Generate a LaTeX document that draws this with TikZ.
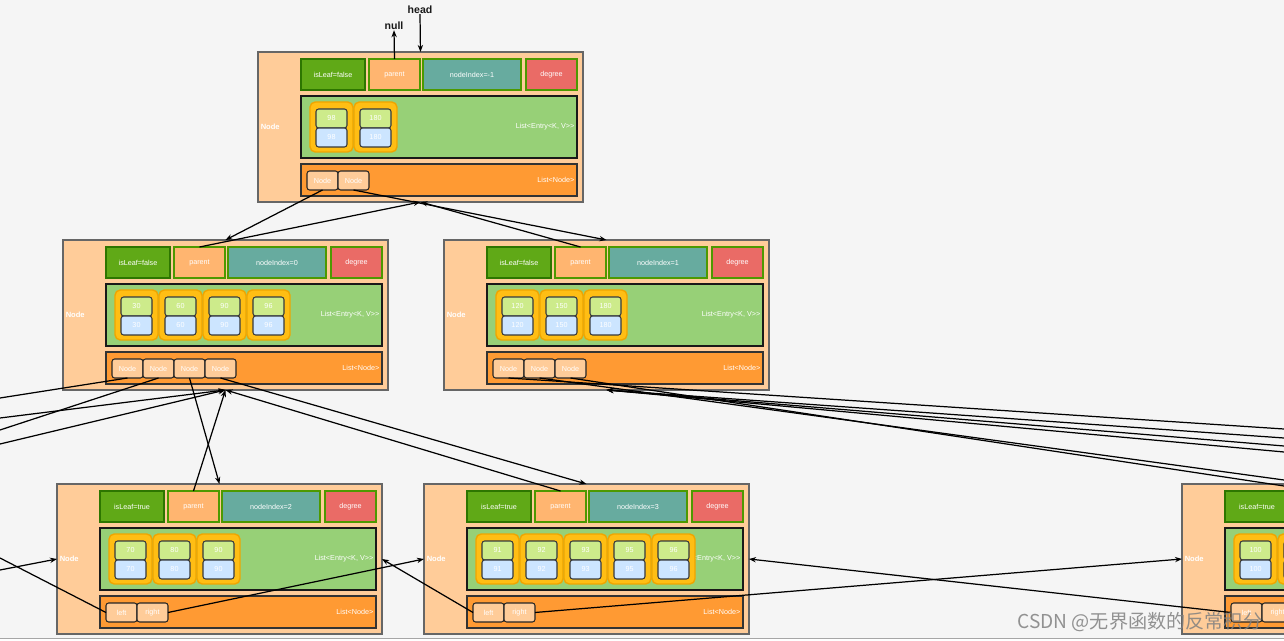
\documentclass[tikz,border=0pt]{standalone}
\usepackage{fontspec}
\setmainfont{Liberation Sans}
\newfontfamily\cjkfont{Noto Sans CJK SC}
\usetikzlibrary{arrows.meta,positioning}

\definecolor{bgcol}{HTML}{F5F5F5}
\definecolor{outerfill}{HTML}{FFCC99}
\definecolor{outerline}{HTML}{666666}
\definecolor{leaffill}{HTML}{60A917}
\definecolor{leafline}{HTML}{2D7600}
\definecolor{parentfill}{HTML}{FFB570}
\definecolor{rowline}{HTML}{4D9900}
\definecolor{indexfill}{HTML}{67AB9F}
\definecolor{degreefill}{HTML}{EA6B66}
\definecolor{entryfill}{HTML}{97D077}
\definecolor{pillfill}{HTML}{FFBE14}
\definecolor{pillline}{HTML}{F0A500}
\definecolor{keyfill}{HTML}{CDEB8B}
\definecolor{valfill}{HTML}{CCE5FF}
\definecolor{cellline}{HTML}{36393D}
\definecolor{childfill}{HTML}{FF9A33}

% one B+ tree node: name, left, top, isLeaf, nodeIndex, keys, child cells
\newcommand{\treenode}[7]{%
  \node[outerbox, anchor=north west] (#1) at (#2,#3) {};
  \node[tag, anchor=west] (#1-lbl) at ({#2+1},{#3+75}) {Node};
  \node[leafbox, anchor=north west] (#1-leaf) at ({#2+43},{#3+7}) {#4};
  \node[parentbox, anchor=north west] (#1-parent) at ({#2+111},{#3+7}) {parent};
  \node[indexbox, anchor=north west] (#1-index) at ({#2+165},{#3+7}) {#5};
  \node[degreebox, anchor=north west] (#1-degree) at ({#2+268},{#3+7}) {degree};
  \node[entrybox, anchor=north west] (#1-entries) at ({#2+43},{#3+44}) {};
  \node[txt, anchor=east] (#1-etxt) at ({#2+318},{#3+75}) {List<Entry<K, V>{}>};
  \foreach \k [count=\i] in {#6} {
    \node[pill, anchor=north west] (#1-p\i) at ({#2+52+44*(\i-1)},{#3+50}) {};
    \node[keybox] (#1-k\i) at ({#2+73.5+44*(\i-1)},{#3+66.5}) {\k};
    \node[valbox] (#1-v\i) at ({#2+73.5+44*(\i-1)},{#3+85.5}) {\k};
  }
  \node[childrow, anchor=north west] (#1-children) at ({#2+43},{#3+112}) {};
  \node[txt, anchor=east] (#1-ctxt) at ({#2+318},{#3+128}) {List<Node>};
  \foreach \c [count=\j] in {#7}
    \node[childbox, anchor=north west] (#1-c\j) at ({#2+49+31*(\j-1)},{#3+119}) {\c};
}

\begin{document}
\begin{tikzpicture}
[
    x=0.02cm, y=-0.02cm,
    txt/.style={inner sep=1pt, outer sep=0pt, text=white, font=\fontsize{4.1}{5}\selectfont},
    tag/.style={txt, font=\bfseries\fontsize{4.3}{5}\selectfont},
    box/.style={txt, draw, line width=0.8pt, inner sep=0pt},
    outerbox/.style={box, fill=outerfill, draw=outerline, minimum width=6.5cm, minimum height=3cm},
    leafbox/.style={box, fill=leaffill, draw=leafline, minimum width=1.28cm, minimum height=0.62cm},
    parentbox/.style={box, fill=parentfill, draw=rowline, minimum width=1.02cm, minimum height=0.62cm},
    indexbox/.style={box, fill=indexfill, draw=rowline, minimum width=1.96cm, minimum height=0.62cm},
    degreebox/.style={box, fill=degreefill, draw=rowline, minimum width=1.02cm, minimum height=0.62cm},
    entrybox/.style={box, fill=entryfill, draw=black!90, minimum width=5.52cm, minimum height=1.24cm},
    childrow/.style={box, fill=childfill, draw=black!80, minimum width=5.52cm, minimum height=0.64cm},
    pill/.style={box, fill=pillfill, draw=pillline, rounded corners=3pt, minimum width=0.86cm, minimum height=1cm},
    keybox/.style={box, fill=keyfill, draw=cellline, rounded corners=1.5pt, line width=0.6pt, minimum width=0.62cm, minimum height=0.38cm},
    valbox/.style={keybox, fill=valfill},
    childbox/.style={box, fill=outerfill, draw=black!85, rounded corners=1.5pt, line width=0.6pt, minimum width=0.62cm, minimum height=0.38cm},
    word/.style={inner sep=0pt, text=black!90, font=\bfseries\fontsize{6}{7}\selectfont},
    link/.style={line width=0.7pt, -{Stealth[length=4pt, width=3pt]}},
    plain/.style={line width=0.7pt},
]
\useasboundingbox (0,0) rectangle (1284,641);
\fill[bgcol] (0,0) rectangle (1284,641);
\clip (0,0) rectangle (1284,641);

\treenode{ntop}{258}{52}{isLeaf=false}{nodeIndex=-1}{98,180}{Node,Node}
\treenode{n0}{63}{240}{isLeaf=false}{nodeIndex=0}{30,60,90,96}{Node,Node,Node,Node}
\treenode{n1}{444}{240}{isLeaf=false}{nodeIndex=1}{120,150,180}{Node,Node,Node}
\treenode{n2}{57}{484}{isLeaf=true}{nodeIndex=2}{70,80,90}{left,right}
\treenode{n3}{424}{484}{isLeaf=true}{nodeIndex=3}{91,92,93,95,96}{left,right}
\treenode{n4}{1182}{484}{isLeaf=true}{nodeIndex=4}{100,{}}{left,right}

\node[word] (head) at (420,10) {head};
\node[word] (nullv) at (394,26) {null};

% ends outside the visible part
\coordinate (lfA) at (0,398);
\coordinate (lfB) at (0,430);
\coordinate (lfC) at (0,418);
\coordinate (lfD) at (0,444);
\coordinate (lfE) at (0,558);
\coordinate (lfF) at (0,570);
\coordinate (rtA) at (1284,429);
\coordinate (rtB) at (1284,480);
\coordinate (rtC) at (1284,486);
\coordinate (rtD) at (1284,438);
\coordinate (rtE) at (1284,446);
\coordinate (rtF) at (1284,452);

\draw[link] (head.south) -- (ntop.north);
\draw[link] (ntop-parent.north) -- (nullv.south);
\draw[link] (ntop-c1.south) -- (n0.north);
\draw[link] (ntop-c2.south) -- (n1.north);
\draw[link] (n0-parent.north) -- (ntop.south);
\draw[link] (n1-parent.north) -- (ntop.south);

\draw[plain] (n0-c1.south) -- (lfA);
\draw[plain] (n0-c2.south) -- (lfB);
\draw[link] (n0-c3.south) -- (n2.north);
\draw[link] (n0-c4.south) -- (n3.north);
\draw[link] (lfC) -- (n0.south);
\draw[link] (lfD) -- (n0.south);
\draw[link] (n2-parent.north) -- (n0.south);
\draw[link] (n3-parent.north) -- (n0.south);

\draw[plain] (n1-c1.south) -- (rtA);
\draw[plain] (n1-c2.south) -- (rtB);
\draw[plain] (n1-c3.south) -- (rtC);
\draw[link] (rtD) -- (n1.south);
\draw[link] (rtE) -- (n1.south);
\draw[link] (rtF) -- (n1.south);

\draw[plain] (n2-c1.west) -- (lfE);
\draw[link] (lfF) -- (n2.west);
\draw[link] (n2-c2.east) -- (n3.west);
\draw[link] (n3-c1.west) -- (n2.east);
\draw[link] (n3-c2.east) -- (n4.west);
\draw[link] (n4-c1.west) -- (n3.east);

\fill[white] (0,639) rectangle (1284,641);
\draw[gray!70, line width=1pt] (0,638.5) -- (1284,638.5);

\node[anchor=west, inner sep=0pt, text=black!50, opacity=0.85, font=\cjkfont\fontsize{10.9}{12}\selectfont] (mark) at (1017,622) {CSDN @无界函数的反常积分};
\end{tikzpicture}
\end{document}
